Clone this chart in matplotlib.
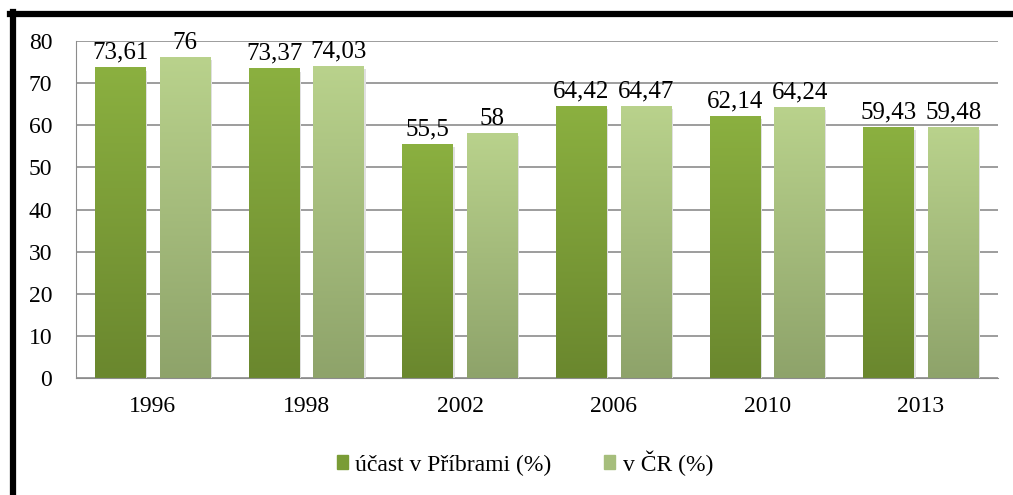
import numpy as np
import matplotlib.pyplot as plt
from matplotlib.colors import LinearSegmentedColormap
from matplotlib.lines import Line2D
from matplotlib.patches import Patch

years = ["1996", "1998", "2002", "2006", "2010", "2013"]
pribram = [73.61, 73.37, 55.5, 64.42, 62.14, 59.43]
cr = [76, 74.03, 58, 64.47, 64.24, 59.48]
pribram_labels = ["73,61", "73,37", "55,5", "64,42", "62,14", "59,43"]
cr_labels = ["76", "74,03", "58", "64,47", "64,24", "59,48"]
legend_labels = ["účast v Příbrami (%)", "v ČR (%)"]

plt.rcParams["font.family"] = ["Liberation Serif", "DejaVu Serif"]

dark_cmap = LinearSegmentedColormap.from_list("dark", ["#6a872e", "#8bb040"])
light_cmap = LinearSegmentedColormap.from_list("light", ["#8ea36a", "#b9d28c"])

fig = plt.figure(figsize=(10.13, 4.95), dpi=100)
ax = fig.add_axes([0.075, 0.236, 0.91, 0.681])

x = np.arange(len(years))
width = 0.33
offset = 0.21
grad = np.linspace(0, 1, 256).reshape(-1, 1)


def gradient_bars(xs, values, cmap, labels):
  for xi, v, lab in zip(xs, values, labels):
    ax.bar(xi, v, width, color="none", zorder=2)
    # faint shadow on the right
    ax.bar(xi + 0.01, v - 0.3, width, bottom=-0.3, color="#e0e0e0", zorder=1.5, clip_on=False)
    ax.imshow(grad, cmap=cmap, origin="lower", aspect="auto",
              extent=(xi - width / 2, xi + width / 2, 0, v), zorder=2)
    ax.annotate(lab, (xi, v), xytext=(0, 3), textcoords="offset points",
                ha="center", va="bottom", fontsize=18, zorder=5)


gradient_bars(x - offset, pribram, dark_cmap, pribram_labels)
gradient_bars(x + offset, cr, light_cmap, cr_labels)

ax.set_xlim(-0.5, len(years) - 0.5)
ax.set_ylim(0, 80)
ax.set_yticks(range(0, 81, 10))
ax.set_xticks(x)
ax.set_xticklabels(years)
ax.tick_params(axis="both", length=0, labelsize=17)
ax.tick_params(axis="x", pad=13)
ax.tick_params(axis="y", pad=17)
ax.grid(axis="y", color="#8c8c8c", linewidth=1.2, zorder=0)
ax.set_axisbelow(True)
for side in ["top", "right"]:
  ax.spines[side].set_visible(False)
ax.spines["left"].set_color("#8c8c8c")
ax.spines["bottom"].set_color("#8c8c8c")

handles = [Patch(color="#7a9c36"), Patch(color="#a6be7c")]
fig.legend(handles, legend_labels, loc="center", bbox_to_anchor=(0.518, 0.065),
           ncol=2, frameon=False, fontsize=17, handlelength=0.5,
           handleheight=0.5, handletextpad=0.3, columnspacing=2.2)

# black frame (top and left edges)
fig.add_artist(Line2D([0.01, 1.0], [0.972, 0.972], color="black", linewidth=4.5))
fig.add_artist(Line2D([0.0128, 0.0128], [0.0, 0.975], color="black", linewidth=4.5))

fig.savefig("out.png", dpi=100)
